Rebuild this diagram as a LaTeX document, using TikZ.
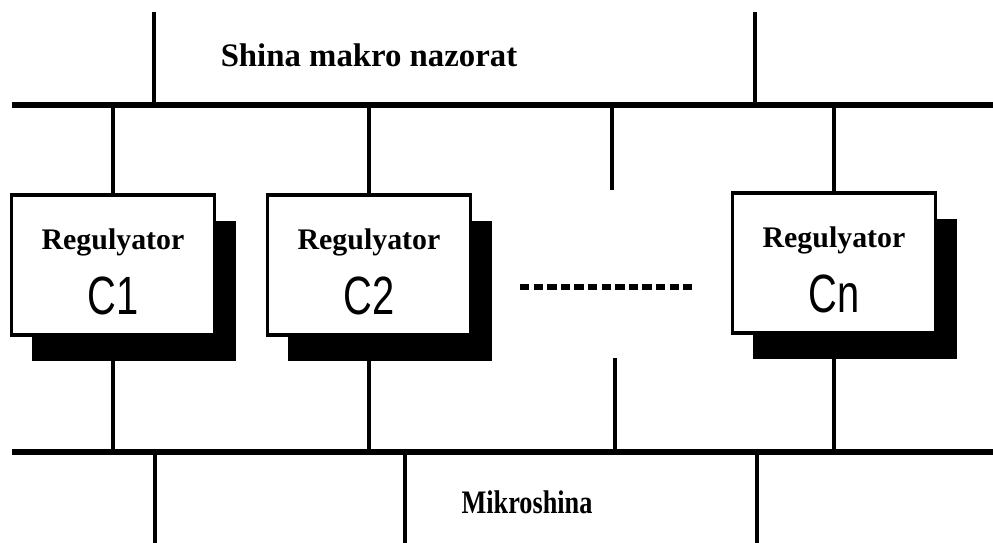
\documentclass[tikz,border=0pt]{standalone}
\usepackage{fontspec}
\setmainfont{Liberation Serif}
\newfontfamily\labsans{Liberation Sans}
\usetikzlibrary{calc}
\usetikzlibrary{shadows}
\tikzset{
  bus/.style={line width=5pt},
  stub/.style={line width=3pt},
  regbox/.style={draw, line width=2.6pt, fill=white, minimum width=6.1cm, minimum height=4.2cm, inner sep=0pt,
    drop shadow={fill=black, opacity=1, shadow xshift=17.9pt, shadow yshift=-22.1pt}},
  regname/.style={font=\bfseries\fontsize{25.5}{27}\selectfont},
  regid/.style={font=\labsans\fontsize{46}{48}\selectfont},
  buslabel/.style={font=\bfseries\fontsize{28}{30}\selectfont}
}
\newcommand{\regulator}[4]{\node[regbox] (#1) at (#2,#3) {}; \node[regname] (#1name) at ($(#1)+(0,-23)$) {Regulyator}; \node[regid] (#1id) at ($(#1)+(0,31)$) {\scalebox{0.74}[1]{#4}};}

\begin{document}
\begin{tikzpicture}[x=0.03cm,y=-0.03cm]
        \useasboundingbox (0,0) rectangle (993,543);
        \fill[white] (0,0) rectangle (993,543);
        % buses
        \coordinate (tbL) at (12,105);
        \coordinate (tbR) at (993,105);
        \coordinate (bbL) at (12,452);
        \coordinate (bbR) at (993,452);
        \draw[bus] (tbL) -- (tbR);
        \draw[bus] (bbL) -- (bbR);
        \node[buslabel] (makro) at (369,55) {Shina makro nazorat};
        \node[buslabel] (mikro) at (527,502) {\scalebox{0.8}[1]{Mikroshina}};
        % regulators
        \regulator{c1}{113}{265}{C1}
        \regulator{c2}{369}{265}{C2}
        \regulator{cn}{834}{263}{Cn}
        % links to the buses
        \draw[stub] (c1.north) -- (c1.north |- tbL);
        \draw[stub] (c2.north) -- (c2.north |- tbL);
        \draw[stub] (cn.north) -- (cn.north |- tbL);
        \draw[stub] (c1.south) -- (c1.south |- bbL);
        \draw[stub] (c2.south) -- (c2.south |- bbL);
        \draw[stub] (cn.south) -- (cn.south |- bbL);
        % open links
        \coordinate (gapA) at (612,190);
        \coordinate (gapB) at (615,358);
        \draw[stub] (gapA) -- (gapA |- tbL);
        \draw[stub] (gapB) -- (gapB |- bbL);
        \coordinate (upA) at (154,12);
        \coordinate (upB) at (755,12);
        \draw[stub] (upA) -- (upA |- tbL);
        \draw[stub] (upB) -- (upB |- tbL);
        \coordinate (dnA) at (155,543);
        \coordinate (dnB) at (405,543);
        \coordinate (dnC) at (757,543);
        \draw[stub] (dnA) -- (dnA |- bbL);
        \draw[stub] (dnB) -- (dnB |- bbL);
        \draw[stub] (dnC) -- (dnC |- bbL);
        % dots between regulators
        \coordinate (dotL) at (520,287);
        \coordinate (dotR) at (692,287);
        \draw[line width=4.6pt, dash pattern=on 8pt off 3.6pt] (dotL) -- (dotR);
\end{tikzpicture}
\end{document}
